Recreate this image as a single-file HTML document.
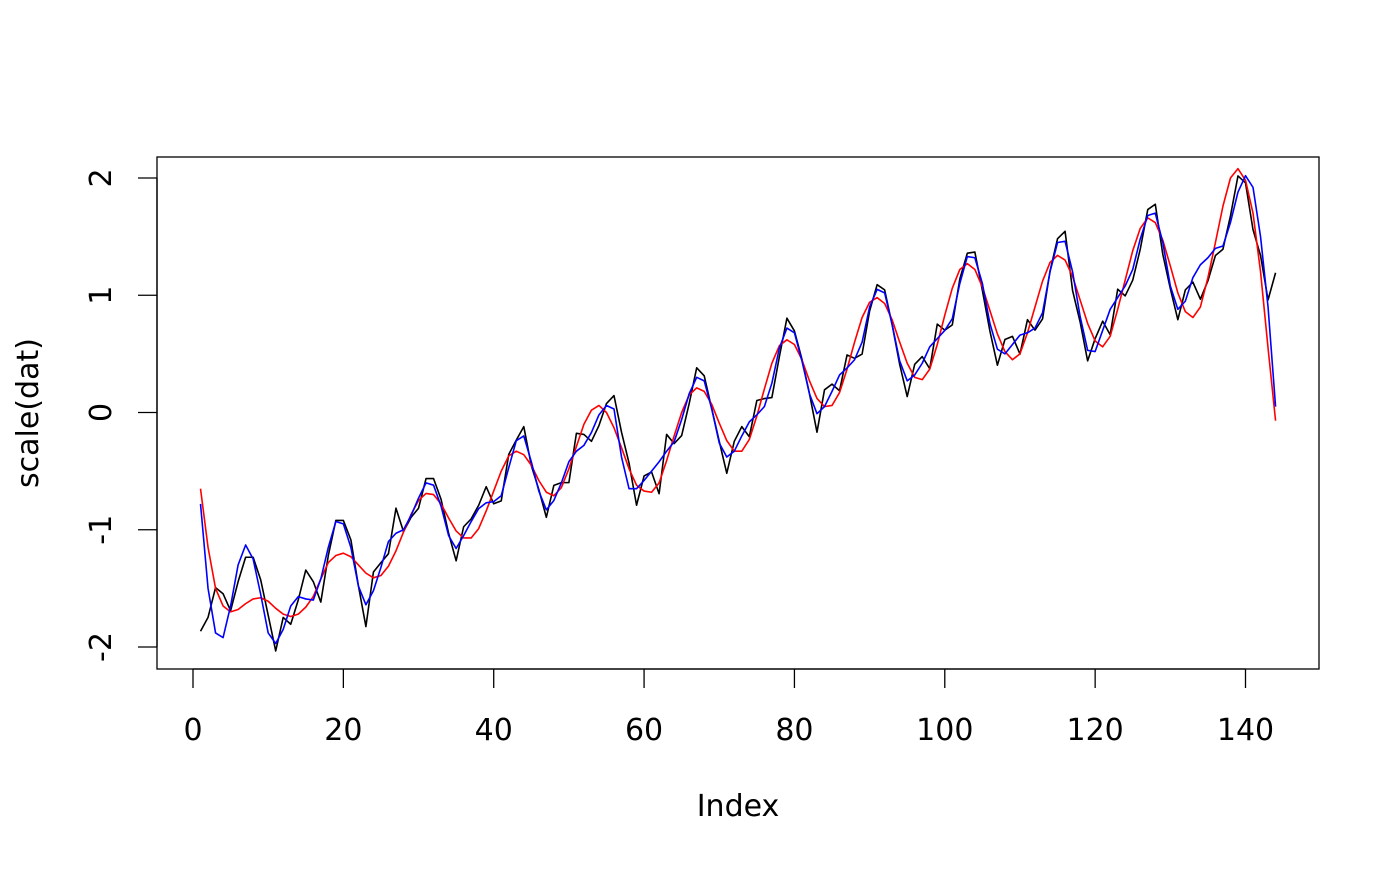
<!DOCTYPE html>
<html><head><meta charset="utf-8"><style>
html,body{margin:0;padding:0;background:#fff;}
svg text{font-family:"DejaVu Sans","Liberation Sans",sans-serif;font-size:30px;fill:#000;}
</style></head><body>
<svg id="chart" width="1400" height="866" viewBox="0 0 1400 866" xmlns="http://www.w3.org/2000/svg">
<rect x="157" y="157" width="1162" height="512" fill="none" stroke="#000" stroke-width="1.3"/>
<g id="xaxis"></g>
<g id="yaxis"></g>
<g id="series"></g>
<text x="738" y="816" text-anchor="middle">Index</text>
<text transform="translate(38,413) rotate(-90)" text-anchor="middle">scale(dat)</text>
</svg>
<script>
const passengers=[112,118,132,129,121,135,148,148,136,119,104,118,115,126,141,135,125,149,170,170,158,133,114,140,145,150,178,163,172,178,199,199,184,162,146,166,171,180,193,181,183,218,230,242,209,191,172,194,196,196,236,235,229,243,264,272,237,211,180,201,204,188,235,227,234,264,302,293,259,229,203,229,242,233,267,269,270,315,364,347,312,274,237,278,284,277,317,313,318,374,413,405,355,306,271,306,315,301,356,348,355,422,465,467,404,347,305,336,340,318,362,348,363,435,491,505,404,359,310,337,360,342,406,396,420,472,548,559,463,407,362,405,417,391,419,461,472,535,622,606,508,461,390,432];
const redSeries=[-0.65,-1.15,-1.5,-1.65,-1.7,-1.68,-1.63,-1.59,-1.58,-1.61,-1.67,-1.72,-1.74,-1.72,-1.66,-1.57,-1.42,-1.28,-1.22,-1.2,-1.23,-1.3,-1.37,-1.41,-1.39,-1.31,-1.18,-1.02,-0.87,-0.75,-0.69,-0.7,-0.78,-0.9,-1.01,-1.07,-1.07,-0.99,-0.84,-0.67,-0.5,-0.37,-0.33,-0.36,-0.45,-0.58,-0.68,-0.71,-0.64,-0.48,-0.29,-0.1,0.02,0.06,0.0,-0.13,-0.3,-0.48,-0.62,-0.67,-0.68,-0.6,-0.41,-0.2,0.0,0.15,0.21,0.18,0.07,-0.09,-0.24,-0.33,-0.33,-0.23,-0.03,0.2,0.42,0.57,0.62,0.58,0.45,0.27,0.12,0.05,0.06,0.17,0.37,0.6,0.81,0.94,0.98,0.93,0.79,0.6,0.42,0.3,0.28,0.37,0.58,0.83,1.06,1.22,1.27,1.22,1.07,0.87,0.67,0.52,0.45,0.5,0.68,0.9,1.12,1.28,1.34,1.3,1.16,0.96,0.76,0.61,0.56,0.65,0.88,1.13,1.38,1.57,1.66,1.62,1.47,1.25,1.02,0.86,0.81,0.9,1.15,1.45,1.76,2.0,2.08,1.98,1.7,1.2,0.55,-0.07];
const blueSeries=[-0.78,-1.5,-1.88,-1.92,-1.65,-1.3,-1.13,-1.25,-1.55,-1.88,-1.97,-1.85,-1.65,-1.57,-1.59,-1.6,-1.42,-1.15,-0.93,-0.95,-1.15,-1.48,-1.64,-1.52,-1.32,-1.1,-1.03,-1.0,-0.88,-0.73,-0.6,-0.62,-0.8,-1.05,-1.16,-1.05,-0.93,-0.82,-0.77,-0.76,-0.71,-0.47,-0.24,-0.2,-0.42,-0.67,-0.83,-0.75,-0.6,-0.42,-0.33,-0.28,-0.17,-0.02,0.06,0.03,-0.38,-0.65,-0.65,-0.58,-0.5,-0.42,-0.33,-0.25,-0.06,0.16,0.3,0.27,0.03,-0.26,-0.38,-0.33,-0.2,-0.08,-0.02,0.05,0.25,0.55,0.72,0.68,0.44,0.16,-0.01,0.05,0.18,0.32,0.38,0.45,0.6,0.9,1.05,1.02,0.75,0.44,0.27,0.32,0.42,0.56,0.63,0.7,0.8,1.1,1.33,1.32,1.1,0.76,0.54,0.5,0.58,0.66,0.68,0.72,0.85,1.2,1.45,1.46,1.2,0.82,0.53,0.52,0.7,0.88,0.98,1.08,1.22,1.48,1.68,1.7,1.45,1.08,0.88,0.95,1.15,1.26,1.32,1.4,1.42,1.62,1.88,2.02,1.92,1.5,0.9,0.05];
const xTicks=[0,20,40,60,80,100,120,140];
const yTicks=[-2,-1,0,1,2];

const NS="http://www.w3.org/2000/svg";
const logs=passengers.map(v=>Math.log(v));
const mean=logs.reduce((a,b)=>a+b,0)/logs.length;
const sd=Math.sqrt(logs.reduce((a,b)=>a+(b-mean)*(b-mean),0)/(logs.length-1));
const blackSeries=logs.map(v=>(v-mean)/sd);

function xs(i){return 193+(i/140)*(1245.5-193);}
function ys(v){return 647-(v+2)/4*(647-178);}
function mk(tag,attrs,parent){const e=document.createElementNS(NS,tag);for(const k in attrs)e.setAttribute(k,attrs[k]);parent.appendChild(e);return e;}

const xa=document.getElementById('xaxis');
mk('line',{x1:xs(0),x2:xs(140),y1:669,y2:669,stroke:'#000','stroke-width':1.3},xa);
xTicks.forEach(t=>{
  const tk=mk('line',{x1:xs(t),x2:xs(t),y1:669,y2:688,stroke:'#000','stroke-width':1.3},xa);
  
  
  const tx=mk('text',{x:xs(t),y:740,'text-anchor':'middle'},xa);
  tx.textContent=t;
  
  
});
const ya=document.getElementById('yaxis');
mk('line',{x1:157,x2:157,y1:ys(-2),y2:ys(2),stroke:'#000','stroke-width':1.3},ya);
yTicks.forEach(t=>{
  const tk=mk('line',{x1:138,x2:157,y1:ys(t),y2:ys(t),stroke:'#000','stroke-width':1.3},ya);
  
  
  const tx=mk('text',{transform:`translate(111,${ys(t)}) rotate(-90)`,'text-anchor':'middle'},ya);
  tx.textContent=t;
  
  
});
const sg=document.getElementById('series');
function line(data,color,name){
  const p=mk('polyline',{points:data.map((v,i)=>xs(i+1).toFixed(2)+','+ys(v).toFixed(2)).join(' '),fill:'none',stroke:color,'stroke-width':1.6,'stroke-linejoin':'round'},sg);
  
  
}
line(blackSeries,'#000','black-series-line');
line(redSeries,'#ff0000','red-series-line');
line(blueSeries,'#0000ff','blue-series-line');
</script>
</body></html>
